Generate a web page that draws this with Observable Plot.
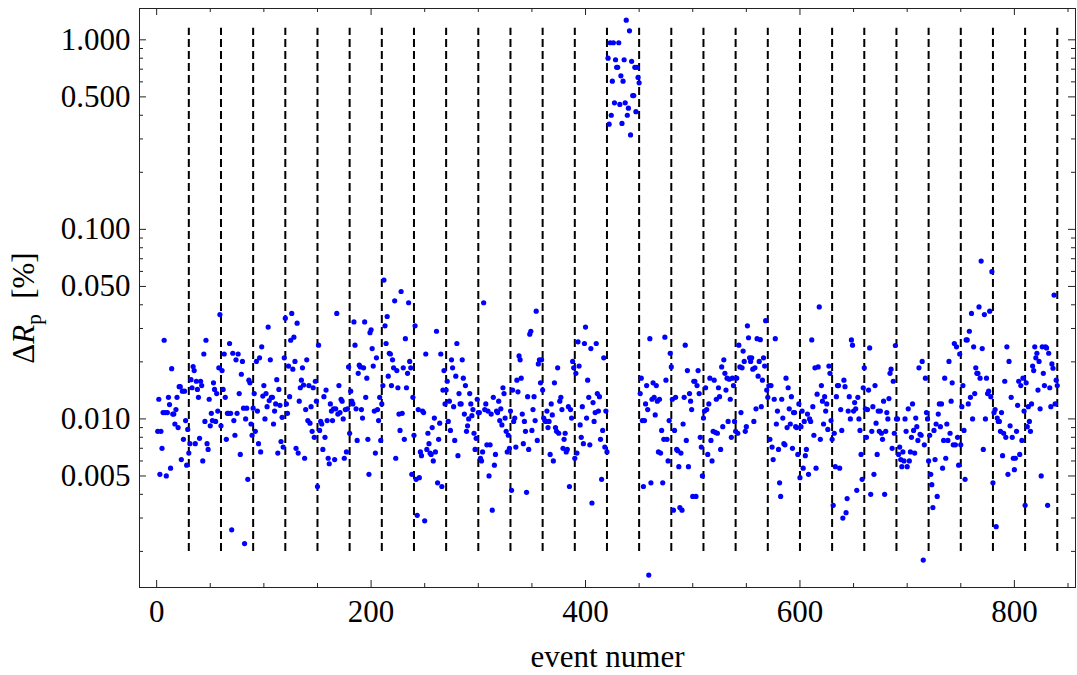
<!DOCTYPE html>
<html>
<head>
<meta charset="utf-8">
<script src="https://cdn.jsdelivr.net/npm/d3@7"></script>
<script src="https://cdn.jsdelivr.net/npm/@observablehq/plot@0.6"></script>
<style>
  html, body { margin: 0; padding: 0; background: #fff; }
  #chart svg { display: block; }
</style>
</head>
<body>
<div id="chart"></div>
<script>
// ΔR_p [%] per event, in blocks of 30 events
const g01 = [0.0086,0.0127,0.0051,0.0086,0.0070,0.0108,0.026,0.0108,0.0050,0.0108,0.013,0.0119,0.0055,0.0184,0.0106,0.0106,0.0094,0.0112,0.013,0.0090,0.0148,0.0148,0.0061,0.014,0.0078,0.014,0.0098,0.0057,0.0088,0.0066];
const g02 = [0.0074,0.0161,0.0146,0.0189,0.018,0.0074,0.0158,0.0143,0.013,0.0079,0.0158,0.015,0.006,0.022,0.0097,0.026,0.0074,0.0069,0.0127,0.0092,0.0107,0.0098,0.0155,0.0143,0.0097,0.0136,0.011,0.0186,0.0355,0.0092];
const g03 = [0.018,0.0143,0.022,0.013,0.0078,0.0107,0.0107,0.025,0.0107,0.0026,0.0222,0.0098,0.0082,0.0205,0.0107,0.022,0.0136,0.0065,0.0172,0.0201,0.0114,0.0022,0.01,0.0114,0.0048,0.016,0.0155,0.0094,0.0082,0.0114];
const g04 = [0.0136,0.0086,0.0201,0.011,0.0074,0.021,0.0067,0.024,0.0132,0.015,0.01,0.0136,0.0116,0.0305,0.0125,0.0205,0.013,0.013,0.0094,0.011,0.012,0.0161,0.0066,0.0143,0.0118,0.0076,0.0102,0.0071,0.021,0.034];
const g05 = [0.012,0.0107,0.019,0.0131,0.026,0.036,0.0183,0.027,0.0201,0.007,0.032,0.0066,0.0124,0.0146,0.016,0.0186,0.0151,0.0062,0.0112,0.0205,0.0098,0.015,0.0095,0.0116,0.0086,0.0146,0.008,0.0158,0.0124,0.0044];
const g06 = [0.0245,0.0087,0.0097,0.0094,0.0069,0.0131,0.008,0.0142,0.0098,0.0062,0.0058,0.012,0.011,0.0098,0.0113,0.0061,0.0113,0.036,0.0106,0.015,0.0108,0.0127,0.0124,0.01,0.0062,0.0112,0.0067,0.0113,0.0188,0.0084];
const g07 = [0.014,0.0124,0.012,0.0325,0.0245,0.0113,0.0077,0.0174,0.0192,0.0188,0.0112,0.0101,0.0186,0.0325,0.013,0.0164,0.0078,0.0051,0.0285,0.0295,0.0235,0.019,0.011,0.0066,0.021,0.0112,0.0098,0.013,0.0077,0.012];
const g08 = [0.015,0.054,0.031,0.025,0.0347,0.0168,0.0222,0.022,0.015,0.0205,0.0186,0.042,0.0062,0.018,0.0146,0.0106,0.0087,0.047,0.0107,0.0186,0.0078,0.0265,0.0146,0.0174,0.041,0.0201,0.0186,0.0051,0.013,0.0082];
const g09 = [0.031,0.0048,0.0031,0.0112,0.0049,0.0067,0.0064,0.011,0.0108,0.0029,0.022,0.0069,0.0084,0.0074,0.0066,0.0065,0.009,0.006,0.0101,0.0067,0.029,0.0046,0.0078,0.0095,0.022,0.0044,0.0142,0.018,0.012,0.0142];
const g10 = [0.0158,0.0097,0.0124,0.0087,0.0205,0.0186,0.0116,0.0077,0.0168,0.025,0.0064,0.0136,0.012,0.012,0.0205,0.0164,0.0106,0.015,0.0086,0.0092,0.01,0.0136,0.012,0.0104,0.0112,0.0084,0.0069,0.0079,0.0127,0.0108];
const g11 = [0.0108,0.0062,0.006,0.0067,0.041,0.0112,0.012,0.0073,0.011,0.005,0.0073,0.0106,0.0033,0.013,0.0057,0.0065,0.011,0.0108,0.0124,0.0098,0.0113,0.0093,0.0146,0.0136,0.0101,0.0086,0.0067,0.0082,0.007,0.011];
const g12 = [0.0042,0.0142,0.0097,0.0101,0.0071,0.016,0.0139,0.0215,0.0205,0.0164,0.0106,0.0074,0.0097,0.0086,0.0041,0.0131,0.0069,0.028,0.029,0.0087,0.0112,0.0131,0.0098,0.037,0.0077,0.0195,0.0205,0.0155,0.0205,0.0142];
const g13 = [0.0101,0.0098,0.0097,0.011,0.009,0.0097,0.0065,0.012,0.0105,0.006,0.0155,0.009,0.0086,0.0186,0.0084,0.0124,0.013,0.0112,0.007,0.0078,0.0084,0.0067,0.0069,0.0116,0.0044,0.0112,0.0101,0.0201,0.0186,0.0062];
const g14 = [0.0174,0.0066,0.0255,0.019,0.0093,0.008,0.0116,0.0074,0.025,0.0305,0.0101,0.016,0.013,0.0073,0.0235,0.0036,0.0122,0.0097,0.0108,0.025,0.0136,0.011,0.0131,0.0078,0.0048,0.0087,0.021,0.0071,0.011,0.0067];
const g15 = [0.80,0.359,0.965,0.40,0.605,0.965,0.465,0.785,0.716,0.716,0.965,0.456,0.646,0.362,0.605,0.785,0.465,1.27,0.40,0.436,1.116,0.315,0.77,0.508,0.508,0.716,0.418,0.716,0.633,0.593];
const g16 = [0.0136,0.0164,0.0098,0.0044,0.0098,0.012,0.015,0.0112,0.0015,0.0265,0.0046,0.0127,0.0155,0.013,0.0105,0.015,0.0124,0.0067,0.0127,0.0066,0.0087,0.0046,0.0078,0.027,0.016,0.0078,0.006,0.0098,0.0222,0.0188];
const g17 = [0.0127,0.0033,0.0087,0.013,0.0069,0.0068,0.0056,0.0034,0.0066,0.0033,0.0094,0.013,0.0245,0.0077,0.018,0.0056,0.0136,0.0124,0.0112,0.0039,0.0158,0.0158,0.0039,0.015,0.018,0.0136,0.008,0.0071,0.005,0.0101];
const g18 = [0.011,0.0146,0.0112,0.0065,0.012,0.0164,0.0077,0.006,0.0086,0.016,0.0085,0.0127,0.0084,0.0146,0.0131,0.0069,0.0188,0.0091,0.0205,0.0174,0.0142,0.0164,0.0097,0.0162,0.0127,0.008,0.0164,0.015,0.0097,0.0086];
const g19 = [0.0164,0.0084,0.0245,0.0188,0.0108,0.0186,0.0228,0.0201,0.0086,0.0091,0.031,0.0268,0.021,0.0201,0.021,0.0183,0.0097,0.0186,0.0113,0.0265,0.0168,0.0201,0.0262,0.0116,0.016,0.021,0.019,0.033,0.0142,0.013];
const g20 = [0.015,0.0078,0.015,0.0071,0.0061,0.0127,0.0265,0.0094,0.011,0.0069,0.0046,0.0039,0.0127,0.0101,0.0074,0.0073,0.0164,0.009,0.0146,0.0113,0.0094,0.0131,0.007,0.0108,0.0108,0.0091,0.009,0.0065,0.012,0.0049];
const g21 = [0.0091,0.011,0.0055,0.0097,0.0064,0.0069,0.0106,0.0051,0.01,0.0097,0.0261,0.0116,0.0082,0.0186,0.0055,0.0135,0.0188,0.039,0.0078,0.015,0.0124,0.0094,0.0131,0.011,0.012,0.0088,0.019,0.0174,0.0098,0.0078];
const g22 = [0.0035,0.0084,0.0056,0.0131,0.015,0.015,0.0055,0.0112,0.0087,0.003,0.016,0.0148,0.0032,0.0038,0.011,0.0131,0.01,0.0261,0.0245,0.011,0.0122,0.0113,0.0042,0.013,0.01,0.0087,0.0065,0.0048,0.0146,0.0186];
const g23 = [0.0113,0.008,0.0112,0.0142,0.0237,0.004,0.0086,0.0116,0.0051,0.015,0.0095,0.0065,0.011,0.0086,0.011,0.0084,0.0078,0.0124,0.004,0.0086,0.0108,0.01,0.0128,0.0174,0.0183,0.007,0.0158,0.0084,0.0244,0.01];
const g24 = [0.01,0.0065,0.0071,0.0061,0.0056,0.0067,0.006,0.01,0.0086,0.0056,0.0113,0.006,0.0067,0.008,0.012,0.0087,0.0066,0.0101,0.0091,0.0077,0.0186,0.0083,0.0082,0.0201,0.0018,0.0073,0.0164,0.0108,0.01,0.006];
const g25 = [0.0082,0.0051,0.0045,0.0034,0.0087,0.0061,0.0094,0.0039,0.0106,0.012,0.0091,0.012,0.0055,0.0077,0.0164,0.0062,0.0094,0.0077,0.0201,0.0084,0.0124,0.0155,0.0073,0.025,0.0073,0.024,0.008,0.0057,0.022,0.0073];
const g26 = [0.0116,0.015,0.0087,0.0048,0.0261,0.0261,0.012,0.029,0.013,0.036,0.01,0.024,0.0136,0.0186,0.0174,0.0174,0.039,0.0164,0.068,0.0235,0.0069,0.0355,0.01,0.0164,0.0136,0.014,0.037,0.0131,0.0598,0.0046];
const g27 = [0.0108,0.0112,0.0027,0.0101,0.0097,0.0097,0.0086,0.0108,0.0064,0.0084,0.0158,0.008,0.024,0.0051,0.0201,0.0092,0.013,0.008,0.0062,0.0054,0.0062,0.0086,0.0118,0.0158,0.0065,0.015,0.0077,0.0164,0.011,0.0035];
const g28 = [0.0155,0.0091,0.0116,0.0097,0.0086,0.012,0.019,0.018,0.024,0.021,0.0222,0.0142,0.0201,0.0113,0.005,0.024,0.0174,0.015,0.024,0.0237,0.0035,0.0222,0.0146,0.0116,0.0195,0.0185,0.045,0.012,0.016,0.015];

// block boundaries (event numbers) and their vertical extent
const boundaries = [30,60,90,120,150,180,210,240,270,300,330,360,390,420,450,480,510,540,570,600,630,660,690,720,750,780,810,840];
const boundaryLow = 0.002;
const boundaryHigh = 1.15;

// tick values
const xMajor = [0, 200, 400, 600, 800];
const xMinor = [50, 100, 150, 250, 300, 350, 450, 500, 550, 650, 700, 750, 850];
const yMajor = [0.005, 0.01, 0.05, 0.1, 0.5, 1];
const yMinor = [0.002, 0.003, 0.004, 0.006, 0.007, 0.008, 0.009, 0.02, 0.03, 0.04, 0.06, 0.07, 0.08, 0.09, 0.2, 0.3, 0.4, 0.6, 0.7, 0.8, 0.9];

const xLabel = "event numer";

const groups = [g01,g02,g03,g04,g05,g06,g07,g08,g09,g10,g11,g12,g13,g14,g15,g16,g17,g18,g19,g20,g21,g22,g23,g24,g25,g26,g27,g28];
const events = groups.flat().map((v, i) => ({event: i + 1, dr: v}));

const W = 1077, H = 675;
const mL = 139, mR = 2, mT = 8, mB = 88;
const pw = W - mL - mR, ph = H - mT - mB;
const majLen = 7, minLen = 4;
const font = "'Liberation Serif', 'Times New Roman', serif";
const fs = 31;

const chart = Plot.plot({
  width: W,
  height: H,
  marginLeft: mL,
  marginRight: mR,
  marginTop: mT,
  marginBottom: mB,
  x: {domain: [-16, 857], axis: null},
  y: {type: "log", domain: [0.00129, 1.463], axis: null},
  style: {fontFamily: font, fontSize: fs + "px", color: "black", background: "white"},
  marks: [
    Plot.ruleX(boundaries, {x: d => d, y1: boundaryLow, y2: boundaryHigh, stroke: "black", strokeWidth: 2, strokeDasharray: "8,4"}),
    Plot.dot(events, {x: "event", y: "dr", r: 2.6, fill: "#0000ff", stroke: "none"}),
    Plot.frame({stroke: "#222", strokeWidth: 1}),
    // inward ticks: bottom & top
    Plot.tickX(xMajor, {x: d => d, insetTop: ph - majLen, stroke: "#222"}),
    Plot.tickX(xMinor, {x: d => d, insetTop: ph - minLen, stroke: "#222"}),
    Plot.tickX(xMajor, {x: d => d, insetBottom: ph - majLen, stroke: "#222"}),
    Plot.tickX(xMinor, {x: d => d, insetBottom: ph - minLen, stroke: "#222"}),
    // inward ticks: left & right
    Plot.tickY(yMajor, {y: d => d, insetRight: pw - majLen, stroke: "#222"}),
    Plot.tickY(yMinor, {y: d => d, insetRight: pw - minLen, stroke: "#222"}),
    Plot.tickY(yMajor, {y: d => d, insetLeft: pw - majLen, stroke: "#222"}),
    Plot.tickY(yMinor, {y: d => d, insetLeft: pw - minLen, stroke: "#222"}),
    // tick labels
    Plot.text(xMajor, {x: d => d, text: d => String(d), frameAnchor: "bottom", lineAnchor: "middle", dy: 25, fontSize: fs}),
    Plot.text(yMajor, {y: d => d, text: d => d.toFixed(3), frameAnchor: "left", lineAnchor: "middle", textAnchor: "end", dx: -9, fontSize: fs}),
    // x axis title
    Plot.text([xLabel], {text: d => d, frameAnchor: "bottom", lineAnchor: "middle", dy: 70, fontSize: fs})
  ]
});

// y axis title with italic R and subscript p
const svg = d3.select(chart);
const yt = svg.append("text")
  .attr("transform", "translate(34,308) rotate(-90)")
  .attr("text-anchor", "middle")
  .attr("font-family", font)
  .attr("font-size", fs)
  .attr("fill", "black");
yt.append("tspan").text("Δ");
yt.append("tspan").attr("font-style", "italic").text("R");
yt.append("tspan").attr("font-size", 21).attr("dy", 7).text("p");
yt.append("tspan").attr("dy", -7).text("\u2002[%]");

document.getElementById("chart").appendChild(chart);
</script>
</body>
</html>
